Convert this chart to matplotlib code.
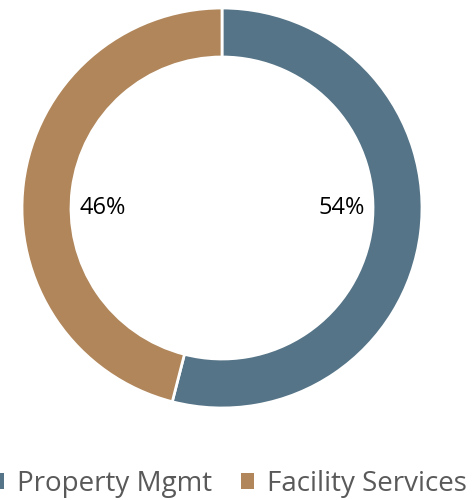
import matplotlib.pyplot as plt
from matplotlib.patches import Patch

plt.rcParams['font.family'] = ['Open Sans', 'DejaVu Sans']

segments = ['Property Mgmt', 'Facility Services']
shares = [54, 46]
colors = ['#557487', '#B0865A']

fig = plt.figure(figsize=(4.72, 5.0), dpi=100)
ax = fig.add_axes([22 / 472, 92 / 500, 400 / 472, 400 / 500])

ring = 0.245
wedges, _ = ax.pie(shares, colors=colors, startangle=90, counterclock=False,
                   radius=1.0, wedgeprops=dict(width=ring, edgecolor='white', linewidth=2))
ax.set_xlim(-1, 1)
ax.set_ylim(-1, 1)
ax.set_aspect('equal')

# percentage labels sit just inside the hole, on the side of each wedge
inner = 1.0 - ring
for w, v in zip(wedges, shares):
    mid = (w.theta1 + w.theta2) / 2.0
    side = 1 if (mid % 360) < 90 or (mid % 360) > 270 else -1
    ax.text(side * (inner - 0.04), 0.0, f'{v}%', ha='right' if side > 0 else 'left',
            va='center', fontsize=17, color='black')

handles = [Patch(facecolor=c, edgecolor='none') for c in colors]
fig.legend(handles, segments, loc='center', bbox_to_anchor=(229 / 472, 1 - 484 / 500),
           ncol=2, frameon=False, fontsize=20, labelcolor='#595959',
           handlelength=0.47, handleheight=0.47, handletextpad=0.47, columnspacing=1.05,
           borderpad=0, borderaxespad=0)

fig.savefig('out.png', dpi=100)
